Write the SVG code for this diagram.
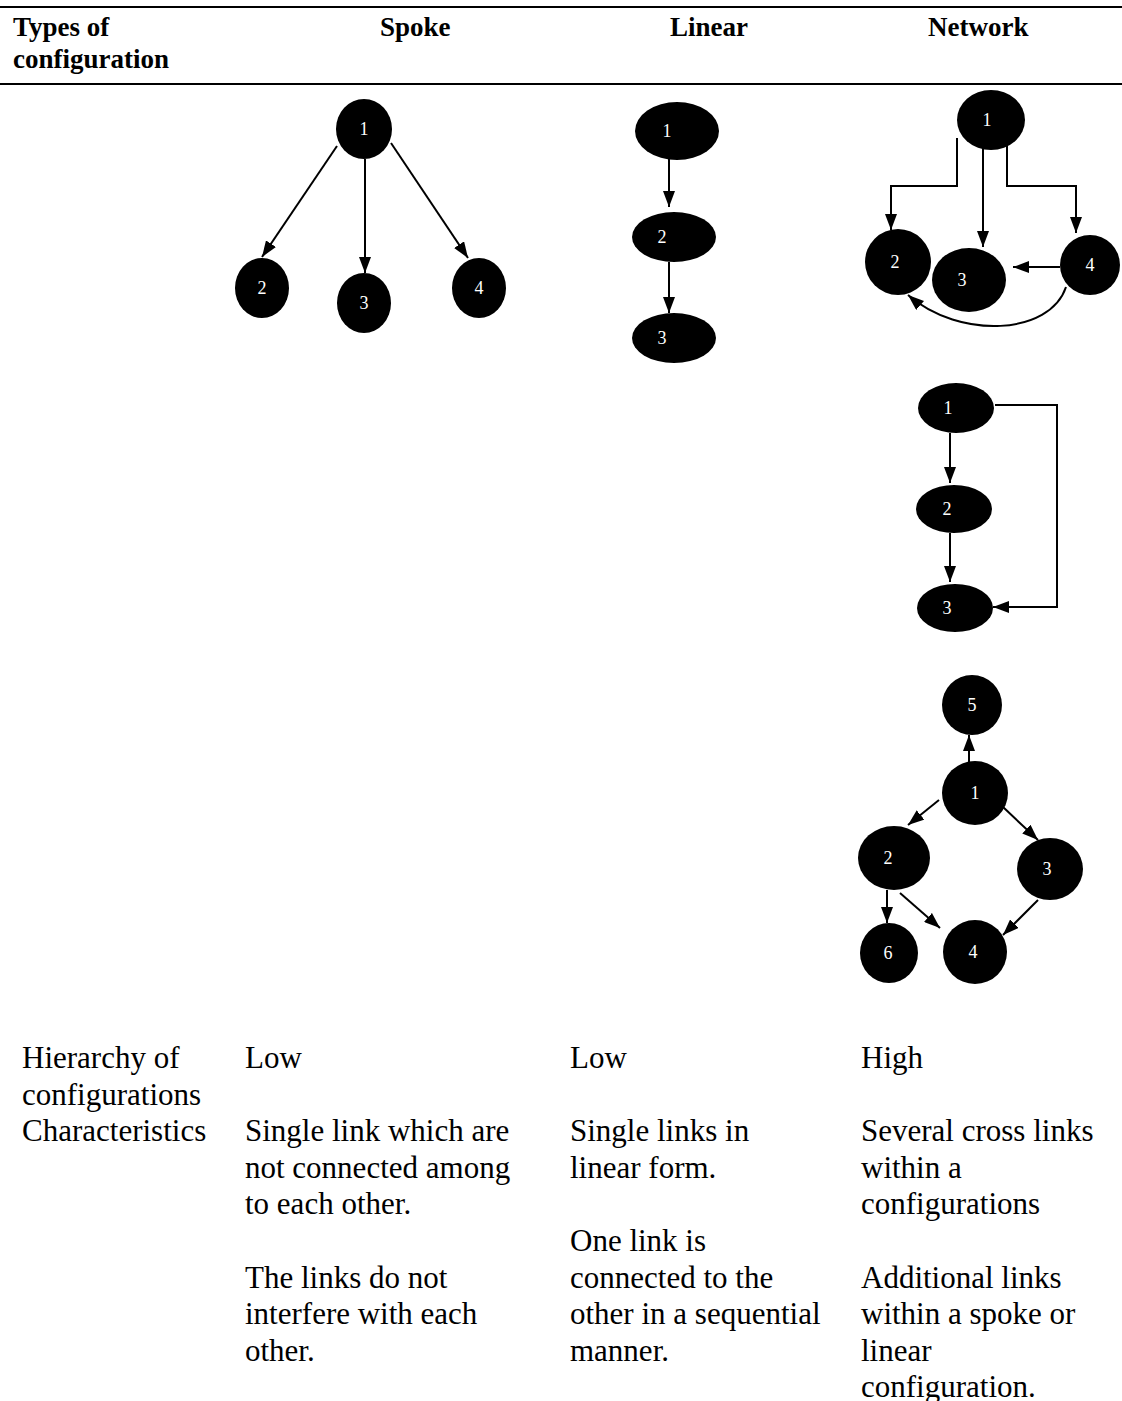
<svg xmlns="http://www.w3.org/2000/svg" width="1122" height="1401" viewBox="0 0 1122 1401">
<style>
.hd{font-family:"Liberation Serif","Times New Roman",serif;font-weight:bold;font-size:27px;fill:#000}
.bd{font-family:"Liberation Serif","Times New Roman",serif;font-size:31px;fill:#000}
.nd{fill:#000}
.nl{font-family:"Liberation Serif","Times New Roman",serif;font-size:18px;fill:#fff;text-anchor:middle;dominant-baseline:central}
.cn{fill:none;stroke:#000;stroke-width:2;marker-end:url(#ah)}
</style>
<defs>
<marker id="ah" viewBox="0 0 16 12" refX="16" refY="6" markerWidth="16" markerHeight="12" markerUnits="userSpaceOnUse" orient="auto">
<path d="M0,0 L16,6 L0,12 Z" fill="#000"/>
</marker>
</defs>
<rect width="1122" height="1401" fill="#fff"/>
<g id="table-rules">
<rect x="0" y="6" width="1122" height="2" fill="#000"/>
<rect x="0" y="83" width="1122" height="2" fill="#000"/>
</g>
<g id="header">
<text class="hd" x="13" y="36">Types of</text>
<text class="hd" x="13" y="68">configuration</text>
<text class="hd" x="380" y="36">Spoke</text>
<text class="hd" x="670" y="36">Linear</text>
<text class="hd" x="928" y="36">Network</text>
</g>
<g id="connectors">
<path class="cn" d="M337,146 L262,257"/>
<path class="cn" d="M365,159 V273"/>
<path class="cn" d="M391,143 L468,258"/>
<path class="cn" d="M669,153 V207"/>
<path class="cn" d="M669,262 V313"/>
<path class="cn" d="M957,138 V186 H891 V230"/>
<path class="cn" d="M983,148 V247"/>
<path class="cn" d="M1007,145 V186 H1076 V233"/>
<path class="cn" d="M1060,267 H1013"/>
<path class="cn" d="M1066,287 C1050,335 960,340 908,295"/>
<path class="cn" d="M950,433 V483"/>
<path class="cn" d="M950,533 V582"/>
<path class="cn" d="M995,405 H1057 V607 H993"/>
<path class="cn" d="M969,762 V735"/>
<path class="cn" d="M939,800 L908,825"/>
<path class="cn" d="M1003,807 L1038,840"/>
<path class="cn" d="M887,890 V923"/>
<path class="cn" d="M900,893 L940,928"/>
<path class="cn" d="M1038,900 L1003,935"/>
</g>
<g id="spoke-1"><ellipse class="nd" cx="364" cy="129" rx="28" ry="30"/><text class="nl" x="364" y="129">1</text></g>
<g id="spoke-2"><ellipse class="nd" cx="262" cy="288" rx="27" ry="30"/><text class="nl" x="262" y="288">2</text></g>
<g id="spoke-3"><ellipse class="nd" cx="364" cy="303" rx="27" ry="30"/><text class="nl" x="364" y="303">3</text></g>
<g id="spoke-4"><ellipse class="nd" cx="479" cy="288" rx="27" ry="30"/><text class="nl" x="479" y="288">4</text></g>
<g id="linear-1"><ellipse class="nd" cx="677" cy="131" rx="42" ry="29"/><text class="nl" x="667" y="131">1</text></g>
<g id="linear-2"><ellipse class="nd" cx="674" cy="237" rx="42" ry="25"/><text class="nl" x="662" y="237">2</text></g>
<g id="linear-3"><ellipse class="nd" cx="674" cy="338" rx="42" ry="25"/><text class="nl" x="662" y="338">3</text></g>
<g id="net1-1"><ellipse class="nd" cx="991" cy="120" rx="34" ry="30"/><text class="nl" x="987" y="120">1</text></g>
<g id="net1-2"><ellipse class="nd" cx="898" cy="262" rx="33" ry="33"/><text class="nl" x="895" y="262">2</text></g>
<g id="net1-3"><ellipse class="nd" cx="969" cy="280" rx="37" ry="32"/><text class="nl" x="962" y="280">3</text></g>
<g id="net1-4"><ellipse class="nd" cx="1090" cy="265" rx="30" ry="30"/><text class="nl" x="1090" y="265">4</text></g>
<g id="net2-1"><ellipse class="nd" cx="956" cy="408" rx="38" ry="25"/><text class="nl" x="948" y="408">1</text></g>
<g id="net2-2"><ellipse class="nd" cx="954" cy="509" rx="38" ry="24"/><text class="nl" x="947" y="509">2</text></g>
<g id="net2-3"><ellipse class="nd" cx="955" cy="608" rx="38" ry="24"/><text class="nl" x="947" y="608">3</text></g>
<g id="net3-5"><ellipse class="nd" cx="972" cy="705" rx="30" ry="30"/><text class="nl" x="972" y="705">5</text></g>
<g id="net3-1"><ellipse class="nd" cx="975" cy="793" rx="33" ry="32"/><text class="nl" x="975" y="793">1</text></g>
<g id="net3-2"><ellipse class="nd" cx="894" cy="858" rx="36" ry="32"/><text class="nl" x="888" y="858">2</text></g>
<g id="net3-3"><ellipse class="nd" cx="1050" cy="869" rx="33" ry="31"/><text class="nl" x="1047" y="869">3</text></g>
<g id="net3-6"><ellipse class="nd" cx="889" cy="953" rx="29" ry="30"/><text class="nl" x="888" y="953">6</text></g>
<g id="net3-4"><ellipse class="nd" cx="975" cy="952" rx="32" ry="32"/><text class="nl" x="973" y="952">4</text></g>
<g id="body-text">
<text class="bd" x="22" y="1068">Hierarchy of</text>
<text class="bd" x="22" y="1105">configurations</text>
<text class="bd" x="22" y="1141">Characteristics</text>
<text class="bd" x="245" y="1068">Low</text>
<text class="bd" x="245" y="1141">Single link which are</text>
<text class="bd" x="245" y="1178">not connected among</text>
<text class="bd" x="245" y="1214">to each other.</text>
<text class="bd" x="245" y="1288">The links do not</text>
<text class="bd" x="245" y="1324">interfere with each</text>
<text class="bd" x="245" y="1361">other.</text>
<text class="bd" x="570" y="1068">Low</text>
<text class="bd" x="570" y="1141">Single links in</text>
<text class="bd" x="570" y="1178">linear form.</text>
<text class="bd" x="570" y="1251">One link is</text>
<text class="bd" x="570" y="1288">connected to the</text>
<text class="bd" x="570" y="1324">other in a sequential</text>
<text class="bd" x="570" y="1361">manner.</text>
<text class="bd" x="861" y="1068">High</text>
<text class="bd" x="861" y="1141">Several cross links</text>
<text class="bd" x="861" y="1178">within a</text>
<text class="bd" x="861" y="1214">configurations</text>
<text class="bd" x="861" y="1288">Additional links</text>
<text class="bd" x="861" y="1324">within a spoke or</text>
<text class="bd" x="861" y="1361">linear</text>
<text class="bd" x="861" y="1397">configuration.</text>
</g>
</svg>
